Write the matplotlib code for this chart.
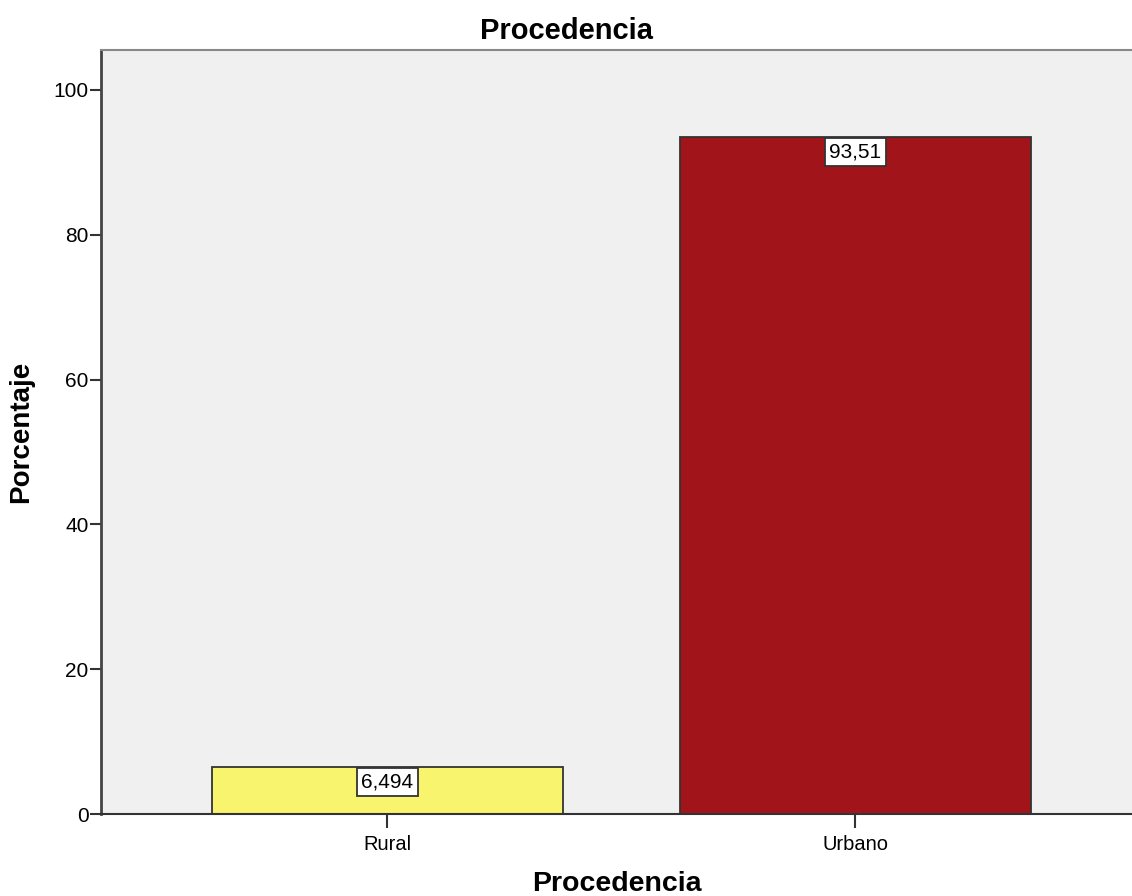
import matplotlib.pyplot as plt

plt.rcParams['font.family'] = ['Liberation Sans', 'DejaVu Sans']

# Datos
categorias = ['Rural', 'Urbano']
porcentajes = [6.494, 93.51]
etiquetas = ['6,494', '93,51']
colores = ['#F8F46E', '#A1151A']

fig = plt.figure(figsize=(11.32, 8.96), dpi=100)
ax = fig.add_axes([0.0892, 0.0915, 0.9108, 0.8525])
ax.set_facecolor('#F0F0F0')

x = range(len(categorias))
ax.bar(x, porcentajes, width=0.75, color=colores, edgecolor='#333333', linewidth=1.3, zorder=2)

# Etiquetas de valor (caja blanca pegada al borde superior de la barra)
for xi, val, lab in zip(x, porcentajes, etiquetas):
    ax.annotate(lab, xy=(xi, val), xytext=(0, -4), textcoords='offset points',
                ha='center', va='top', fontsize=15, zorder=3,
                bbox=dict(boxstyle='square,pad=0.22', facecolor='white',
                          edgecolor='#333333', linewidth=1.3))

ax.set_xlim(-0.612, 1.591)
ax.set_ylim(0, 105.5)
ax.set_xticks(list(x))
ax.set_xticklabels(categorias, fontsize=14.5)
ax.set_yticks([0, 20, 40, 60, 80, 100])
ax.tick_params(axis='y', labelsize=15, length=8, width=1.5, color='#333333', pad=1)
ax.tick_params(axis='x', length=10, width=1.5, color='#333333', pad=5)

ax.spines['right'].set_visible(False)
ax.spines['top'].set_color('#888888')
ax.spines['top'].set_linewidth(1.5)
ax.spines['left'].set_color('#444444')
ax.spines['left'].set_linewidth(2)
ax.spines['bottom'].set_color('#333333')
ax.spines['bottom'].set_linewidth(1.5)

# Título centrado en la figura
fig.text(0.5, 0.965, 'Procedencia', ha='center', va='center', fontsize=21, fontweight='bold')
ax.set_xlabel('Procedencia', fontsize=20.5, fontweight='bold', labelpad=12)
ax.set_ylabel('Porcentaje', fontsize=20, fontweight='bold', labelpad=14)

plt.savefig('out.png', dpi=100)
